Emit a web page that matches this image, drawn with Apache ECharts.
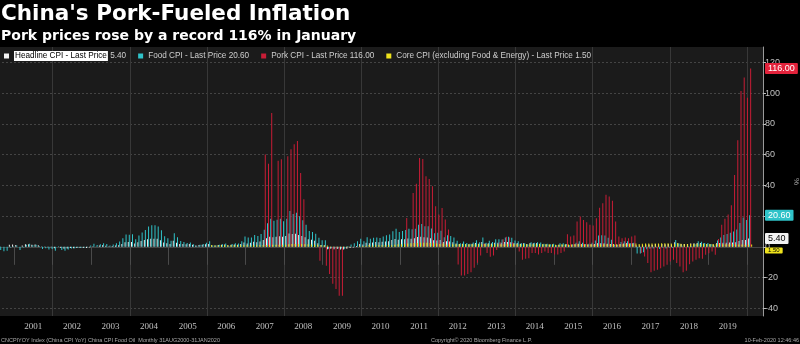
<!DOCTYPE html>
<html><head><meta charset="utf-8">
<script src="https://cdn.jsdelivr.net/npm/echarts@6/dist/echarts.min.js"></script>
<style>html,body{margin:0;padding:0;background:#000;}#c{width:800px;height:344px;}</style>
</head><body><div id="c"></div>
<script>
// Monthly values, Aug 2000 .. Jan 2020 (234 months)
const headline = [
 0.3,0.0,0.0,1.3,1.5,
 1.2,0.0,0.8,1.6,1.7,1.4,1.5,1.0,-0.1,0.2,-0.3,-0.3,
 -1.0,0.0,-0.8,-1.3,-1.1,-0.8,-0.9,-0.7,-0.7,-0.8,-0.7,-0.4,
 0.4,0.2,0.9,1.0,0.7,0.3,0.5,0.9,1.1,1.8,3.0,3.2,
 3.2,2.1,3.0,3.8,4.4,5.0,5.3,5.3,5.2,4.3,2.8,2.4,
 1.9,3.9,2.7,1.8,1.8,1.6,1.8,1.3,0.9,1.2,1.3,1.6,
 1.9,0.9,0.8,1.2,1.4,1.5,1.0,1.3,1.5,1.4,1.9,2.8,
 2.2,2.7,3.3,3.0,3.4,4.4,5.6,6.5,6.2,6.5,6.9,6.5,
 7.1,8.7,8.3,8.5,7.7,7.1,6.3,4.9,4.6,4.0,2.4,1.2,
 1.0,-1.6,-1.2,-1.5,-1.4,-1.7,-1.8,-1.2,-0.8,-0.5,0.6,1.9,
 1.5,2.7,2.4,2.8,3.1,2.9,3.3,3.5,3.6,4.4,5.1,4.6,
 4.9,4.9,5.4,5.3,5.5,6.4,6.5,6.2,6.1,5.5,4.2,4.1,
 4.5,3.2,3.6,3.4,3.0,2.2,1.8,2.0,1.9,1.7,2.0,2.5,
 2.0,3.2,2.1,2.4,2.1,2.7,2.7,2.6,3.1,3.2,3.0,2.5,
 2.5,2.0,2.4,1.8,2.5,2.3,2.3,2.0,1.6,1.6,1.4,1.5,
 0.8,1.4,1.4,1.5,1.2,1.4,1.6,2.0,1.6,1.3,1.5,1.6,
 1.8,2.3,2.3,2.3,2.0,1.9,1.8,1.3,1.9,2.1,2.3,2.1,
 2.5,0.8,0.9,1.2,1.5,1.5,1.4,1.8,1.6,1.9,1.7,1.8,
 1.5,2.9,2.1,1.8,1.8,1.9,2.1,2.3,2.5,2.5,2.2,1.9,
 1.7,1.5,2.3,2.5,2.7,2.7,2.8,2.8,3.0,3.8,4.5,4.5,
 5.4
];
const food = [
 -2.0,-2.8,-2.5,-0.5,0.3,
 0.8,-2.0,-0.4,1.3,2.0,1.0,1.4,0.6,-1.4,-0.9,-1.7,-1.4,
 -2.6,0.3,-2.0,-2.6,-1.7,-1.1,-0.9,-0.6,-0.6,-0.5,-0.3,0.9,
 2.0,1.2,1.7,2.3,1.8,0.9,1.5,2.4,3.4,5.6,8.0,7.9,
 8.2,5.0,7.3,9.3,10.9,13.2,14.0,14.0,13.3,10.8,6.9,5.6,
 4.0,8.9,6.2,3.8,3.2,2.5,2.8,1.6,0.7,1.3,1.8,2.7,
 3.7,0.9,0.9,1.4,1.6,2.1,0.6,1.8,2.4,2.2,3.7,6.7,
 6.0,6.0,7.7,7.1,8.3,11.1,15.4,18.2,16.9,17.6,18.2,16.7,
 18.2,23.3,21.4,22.1,19.9,17.3,14.4,10.3,9.7,8.5,5.9,4.2,
 4.2,-1.3,-0.6,-0.8,-1.1,-1.1,-1.2,0.5,1.5,2.3,3.7,5.2,
 3.7,6.2,5.2,5.9,6.1,5.7,6.8,7.5,8.0,10.1,11.7,9.6,
 10.3,11.0,11.7,11.5,11.7,14.4,14.8,13.4,13.4,11.9,8.8,9.1,
 10.5,6.2,7.5,7.0,6.1,3.9,2.4,3.4,2.5,2.0,2.8,4.2,
 2.9,6.0,2.7,4.0,3.2,4.9,5.0,4.7,6.1,6.5,5.9,4.1,
 3.7,2.4,2.3,1.5,3.0,2.7,2.9,2.8,2.0,2.0,1.6,2.0,
 1.1,2.4,2.3,1.8,1.1,1.6,2.7,3.7,2.7,1.9,2.0,2.7,
 4.1,7.3,7.6,7.4,5.9,4.6,1.3,1.3,3.2,3.7,3.6,2.4,
 2.7,-4.3,-4.4,-3.5,-1.6,-1.2,-1.1,-0.2,-1.4,-0.4,-1.1,-0.4,
 -0.5,4.4,2.1,0.7,0.1,0.3,0.5,1.7,3.6,3.3,2.5,2.5,
 1.9,0.7,4.1,6.1,7.7,8.3,9.1,10.0,11.2,15.5,19.1,17.4,
 20.6
];
const pork = [
 null,null,null,null,null,
 null,null,null,null,null,null,null,null,null,null,null,null,
 null,null,null,null,null,null,null,null,null,null,null,null,
 null,null,null,null,null,null,null,null,null,null,null,null,
 null,null,null,null,null,null,null,null,null,null,null,null,
 null,null,null,null,null,null,null,null,null,null,null,null,
 null,null,null,null,null,null,null,null,null,null,null,null,
 null,null,null,null,null,60,54,87,null,56,57,null,
 59,63.4,66.7,68.8,48,31,null,null,null,null,-9,null,
 -12.3,-17.7,-24,-27.5,-31.8,-31.8,null,null,null,null,null,null,
 null,null,null,null,null,null,null,null,null,null,null,null,
 null,18.8,null,35,41,57.8,57.1,45.9,44.2,39.4,26.4,21,
 25.3,17.7,11.3,null,null,-11.5,-18.6,-18.6,-17.7,-16.5,-13.6,-10.4,
 -5.6,2,-4,-6.5,-5.6,-2,3,5,6.5,6,3,1,
 -3,-8.4,-7.8,-7.4,-4,-4,-5,-4,-3,-4,-4,-5,
 -5,-4,-3,8.2,6.7,7.4,16.5,19.7,17.5,16,14.3,13.9,
 18.6,25.5,28.4,33.8,32.7,29.9,16.5,6.7,5.6,6,5.6,6.7,
 7.4,null,-4,-6.3,-10.6,-16.5,-15.6,-14.9,-13.9,-12.8,-11.7,-9.5,
 -8.4,-10.6,-12.8,-16.5,-15.6,-11.3,-9.5,-8.4,-7.4,-7.8,-5.2,-4.1,
 -3,-5.2,5.1,14.4,18.2,21.1,27,46.7,69.3,101.3,110.2,97,
 116
];
const core = [
 null,null,null,null,null,
 null,null,null,null,null,null,null,null,null,null,null,null,
 null,null,null,null,null,null,null,null,null,null,null,null,
 null,null,null,null,null,null,null,null,null,null,null,null,
 null,null,null,null,null,null,null,null,null,null,null,null,
 null,null,null,null,null,null,null,null,null,null,null,null,
 1.2,0.8,0.9,1.0,1.0,1.1,1.0,1.0,1.0,1.0,1.0,1.1,
 0.9,1.0,1.1,1.1,1.1,1.2,1.2,1.3,1.3,1.4,1.4,1.4,
 1.6,1.9,1.8,1.9,1.8,1.7,1.6,1.5,1.4,1.3,1.0,0.8,
 0.9,-0.3,-0.1,-0.2,-0.2,-0.3,-0.3,-0.1,0.0,0.0,0.4,0.6,
 0.5,1.2,0.9,1.0,1.1,1.0,1.1,1.2,1.1,1.3,1.6,1.7,
 1.7,2.2,2.3,2.5,2.5,2.6,2.7,2.6,2.5,2.3,2.1,1.9,
 2.2,1.5,1.6,1.6,1.6,1.6,1.6,1.6,1.6,1.6,1.6,1.7,
 1.7,1.9,1.8,1.7,1.6,1.6,1.6,1.7,1.8,1.8,1.9,1.8,
 1.7,1.6,1.7,1.6,1.7,1.6,1.7,1.6,1.6,1.6,1.5,1.4,
 1.3,1.6,1.5,1.5,1.5,1.6,1.6,1.7,1.6,1.5,1.6,1.5,
 1.5,1.5,1.6,1.6,1.6,1.6,1.6,1.7,1.7,1.8,1.9,1.9,
 2.2,1.8,2.0,2.1,2.1,2.2,2.1,2.2,2.3,2.3,2.3,2.2,
 1.9,2.5,2.0,1.9,1.9,2.0,1.9,2.0,1.7,1.8,1.8,1.8,
 1.9,1.8,1.8,1.7,1.6,1.6,1.6,1.5,1.5,1.5,1.4,1.4,
 1.5
];
const seriesNames = ['Headline CPI','Food CPI','Pork CPI','Core CPI (excluding Food & Energy)'];
const seriesColors = ['#f2f2f2','#2fc3c9','#c81d36','#efe31c'];
const labelBg = ['#f2f2f2','#2fc3c9','#e3223b','#efe31c'];
const labelColors = ['#000','#fff','#fff','#000'];
const tickMin = -40, tickMax = 120, tickStep = 20;   // labelled ticks
const axisMin = -45, axisMax = 130;                   // visible value range

// Month-end categories: end of Jul 2000 .. end of Jun 2020
const categories = [];
for (let k = 0; k < 239; k++) {
  const t = 2000 * 12 + 6 + k;
  const y = Math.floor(t / 12), mo = t % 12 + 1;
  categories.push(y + '-' + String(mo).padStart(2, '0'));
}
const allData = [headline, food, pork, core];
const lastVal = arr => arr[arr.length - 1];

// Layout of the data grid, and a tick grid sharing the same value scale
const H = 344, gTop = 47, gBottom = 28, gLeft = -2, gRight = 37;
const pxPerUnit = (H - gTop - gBottom) / (axisMax - axisMin);
const tTop = gTop + (axisMax - tickMax) * pxPerUnit;
const tBottom = gBottom + (tickMin - axisMin) * pxPerUnit;

const chart = echarts.init(document.getElementById('c'), null, {renderer: 'canvas'});
const series = allData.map((arr, i) => ({
  name: seriesNames[i],
  type: 'bar',
  xAxisIndex: 0, yAxisIndex: 0,
  data: [null].concat(arr),
  barGap: '0%',
  barCategoryGap: '0%',
  itemStyle: {color: seriesColors[i]},
  animation: false,
  markLine: {
    silent: true,
    symbol: 'none',
    lineStyle: {color: 'rgba(0,0,0,0)', width: 1},
    data: [{yAxis: lastVal(arr)}],
    label: {
      show: true, position: 'end', distance: 2,
      formatter: () => lastVal(arr).toFixed(2),
      backgroundColor: labelBg[i], color: labelColors[i],
      fontSize: i === 3 ? 6 : 9, fontFamily: 'Liberation Sans',
      padding: i === 3 ? [0, 3] : [1, 3], borderRadius: 1,
      offset: i === 3 ? [0, 6] : [0, 0]
    }
  }
}));

chart.setOption({
  backgroundColor: '#000',
  animation: false,
  title: [
    {text: "China's Pork-Fueled Inflation", subtext: 'Pork prices rose by a record 116% in January',
     left: 1, top: 3, padding: 0, itemGap: 4,
     textStyle: {color: '#fff', fontSize: 21.5, fontWeight: 'bold', fontFamily: 'DejaVu Sans'},
     subtextStyle: {color: '#fff', fontSize: 14, fontWeight: 'bold', fontFamily: 'DejaVu Sans'}},
    {text: 'CNCPIYOY Index (China CPI YoY) China CPI Food Oil  Monthly 31AUG2000-31JAN2020',
     left: 1, bottom: 1, padding: 0, textStyle: {color: '#aaa', fontSize: 5.5, fontWeight: 'normal', fontFamily: 'Liberation Sans'}},
    {text: 'Copyright\u00a9 2020 Bloomberg Finance L.P.',
     left: 431, bottom: 1, padding: 0, textStyle: {color: '#aaa', fontSize: 5.5, fontWeight: 'normal', fontFamily: 'Liberation Sans'}},
    {text: '10-Feb-2020 12:46:46',
     right: 1, bottom: 1, padding: 0, textStyle: {color: '#aaa', fontSize: 5.5, fontWeight: 'normal', fontFamily: 'Liberation Sans'}}
  ],
  legend: {
    left: 4, top: 51, padding: 0, itemGap: 12, itemWidth: 5, itemHeight: 5, icon: 'rect',
    data: seriesNames,
    textStyle: {color: '#cfcfcf', fontSize: 8.2, fontFamily: 'Liberation Sans',
      rich: {hl: {backgroundColor: '#fff', color: '#000', fontSize: 8.2, fontFamily: 'Liberation Sans', padding: [1, 1]}}},
    formatter: name => {
      const i = seriesNames.indexOf(name);
      const v = lastVal(allData[i]).toFixed(2);
      if (i === 0) return '{hl|' + name + ' - Last Price} ' + v;
      return name + ' - Last Price ' + v;
    }
  },
  grid: [
    {left: gLeft, right: gRight, top: gTop, bottom: gBottom, show: true, backgroundColor: '#1b1b1b', borderWidth: 0,
     containLabel: false, outerBoundsMode: 'none'},
    {left: gLeft, right: gRight, top: tTop, bottom: tBottom, show: false,
     containLabel: false, outerBoundsMode: 'none'}
  ],
  xAxis: [{
    gridIndex: 0, type: 'category', data: categories, boundaryGap: false,
    axisLine: {show: true, lineStyle: {color: '#444'}},
    axisTick: {show: true, length: 18, interval: (i, v) => v.endsWith('-12'), lineStyle: {color: '#4a4a4a'}},
    axisLabel: {show: true, interval: (i, v) => v.endsWith('-06'), formatter: v => v.slice(0, 4),
      color: '#c0c0c0', fontSize: 9, fontFamily: 'Liberation Sans Narrow', margin: 6},
    splitLine: {show: true, interval: (i, v) => v.endsWith('-12') && (+v.slice(0, 4)) % 2 === 1,
      lineStyle: {color: '#383838', width: 1}}
  }, {
    gridIndex: 1, type: 'category', data: categories, boundaryGap: false, show: false
  }],
  yAxis: [{
    gridIndex: 0, type: 'value', position: 'right', min: axisMin, max: axisMax,
    name: '%', nameLocation: 'middle', nameGap: 29, nameRotate: -90,
    nameTextStyle: {color: '#aaa', fontSize: 8},
    axisLine: {show: true, lineStyle: {color: '#9a9a9a'}},
    axisTick: {show: false}, axisLabel: {show: false}, splitLine: {show: false}
  }, {
    gridIndex: 1, type: 'value', position: 'right', min: tickMin, max: tickMax, interval: tickStep,
    axisLine: {show: false},
    axisTick: {show: true, length: 3, lineStyle: {color: '#bbb'}},
    axisLabel: {color: '#c0c0c0', fontSize: 9, fontFamily: 'Liberation Sans', margin: 2},
    splitLine: {show: true, lineStyle: {color: '#444', type: [2, 2]}}
  }],
  series: series
});
</script></body></html>
